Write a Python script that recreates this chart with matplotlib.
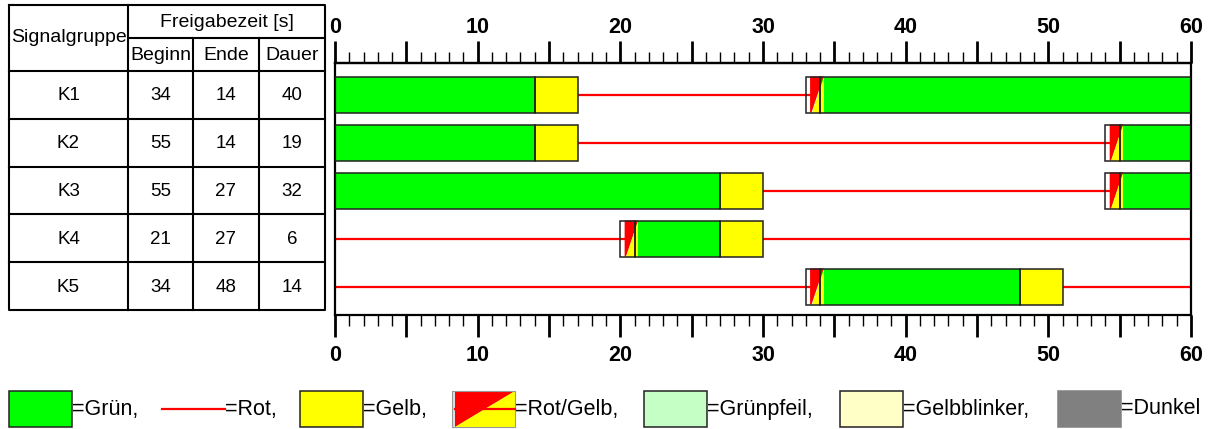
import matplotlib
matplotlib.use('Agg')
import matplotlib.pyplot as plt
from matplotlib.patches import Rectangle, Polygon
from matplotlib.ticker import MultipleLocator

plt.rcParams['font.family'] = ['Liberation Sans', 'DejaVu Sans']

# table data
groups = ['K1', 'K2', 'K3', 'K4', 'K5']
beginn = [34, 55, 55, 21, 34]
ende = [14, 14, 27, 27, 48]
dauer = [40, 19, 32, 6, 14]

# signal phases (state, start, end) in seconds
phases_k1 = [('gruen', 0, 14), ('gelb', 14, 17), ('rot', 17, 33), ('rotgelb', 33, 34), ('gruen', 34, 60)]
phases_k2 = [('gruen', 0, 14), ('gelb', 14, 17), ('rot', 17, 54), ('rotgelb', 54, 55), ('gruen', 55, 60)]
phases_k3 = [('gruen', 0, 27), ('gelb', 27, 30), ('rot', 30, 54), ('rotgelb', 54, 55), ('gruen', 55, 60)]
phases_k4 = [('rot', 0, 20), ('rotgelb', 20, 21), ('gruen', 21, 27), ('gelb', 27, 30), ('rot', 30, 60)]
phases_k5 = [('rot', 0, 33), ('rotgelb', 33, 34), ('gruen', 34, 48), ('gelb', 48, 51), ('rot', 51, 60)]
all_phases = [phases_k1, phases_k2, phases_k3, phases_k4, phases_k5]

cycle = 60

GREEN = '#00ff00'
YELLOW = '#ffff00'
RED = '#ff0000'
EDGE = '#222222'
fills = {'gruen': GREEN, 'gelb': YELLOW}

W, H = 1221, 429
fig = plt.figure(figsize=(W / 100, H / 100), dpi=100)

# background axes in pixel coords for table and legend
bg = fig.add_axes([0, 0, 1, 1])
bg.set_xlim(0, W)
bg.set_ylim(H, 0)
bg.axis('off')

# ---- table ----
tlw = 1.5
xl, xc1, xc2, xc3, xr = 9, 128, 193, 259, 325
yt, yh1, yh2 = 5, 38, 71
row_h = 47.8
yb = yh2 + row_h * len(groups)
bg.plot([xl, xr, xr, xl, xl], [yt, yt, yb, yb, yt], color='k', lw=tlw)
bg.plot([xc1, xc1], [yt, yb], color='k', lw=tlw)
bg.plot([xc2, xc2], [yh1, yb], color='k', lw=tlw)
bg.plot([xc3, xc3], [yh1, yb], color='k', lw=tlw)
bg.plot([xc1, xr], [yh1, yh1], color='k', lw=tlw)
for i in range(len(groups)):
    yy = yh2 + i * row_h
    bg.plot([xl, xr], [yy, yy], color='k', lw=tlw)

fs = 14
bg.text((xl + xc1) / 2, (yt + yh2) / 2, 'Signalgruppe', ha='center', va='center', fontsize=fs)
bg.text((xc1 + xr) / 2, (yt + yh1) / 2 + 1, 'Freigabezeit [s]', ha='center', va='center', fontsize=fs)
for x0, x1, lab in [(xc1, xc2, 'Beginn'), (xc2, xc3, 'Ende'), (xc3, xr, 'Dauer')]:
    bg.text((x0 + x1) / 2, (yh1 + yh2) / 2 + 1, lab, ha='center', va='center', fontsize=fs)
for i, g in enumerate(groups):
    yy = yh2 + (i + 0.5) * row_h + 1
    for x0, x1, val in [(xl, xc1, g), (xc1, xc2, beginn[i]), (xc2, xc3, ende[i]), (xc3, xr, dauer[i])]:
        bg.text((x0 + x1) / 2, yy, str(val), ha='center', va='center', fontsize=13.5)

# ---- timeline ----
ax = fig.add_axes([335 / W, (H - 315) / H, 856 / W, 252 / H])
ax.set_xlim(0, cycle)
ax.set_ylim(4 + 28.5 / 48, -31.5 / 48)
ax.set_yticks([])
for sp in ax.spines.values():
    sp.set_linewidth(1.6)
    sp.set_color('k')

bh = 0.75


def draw_rotgelb(ax, y, t0, t1):
    top, bot = y - bh / 2, y + bh / 2
    s, e = t0 + 0.3, t1 + 0.25
    ax.add_patch(Rectangle((t0, top), t1 - t0, bh, fc='white', ec='none', zorder=2))
    ax.plot([t0, s + 0.1], [y, y], color=RED, lw=1.6, zorder=2.5)
    ax.add_patch(Polygon([(s, top), (e, top), (s + 0.1, bot), (s, bot)], closed=True,
                         fc=RED, ec='none', zorder=3))
    ax.add_patch(Polygon([(e, top), (e, bot), (s + 0.1, bot)], closed=True,
                         fc=YELLOW, ec='none', zorder=3))
    ax.add_patch(Rectangle((t0, top), t1 - t0, bh, fill=False, ec=EDGE, lw=1.1, zorder=4))


for i, ph in enumerate(all_phases):
    for state, t0, t1 in ph:
        if state == 'rot':
            ax.plot([t0, t1], [i, i], color=RED, lw=1.6, zorder=1)
        elif state == 'rotgelb':
            draw_rotgelb(ax, i, t0, t1)
        else:
            ax.add_patch(Rectangle((t0, i - bh / 2), t1 - t0, bh, fc=fills[state], ec='none', zorder=2))
            ax.add_patch(Rectangle((t0, i - bh / 2), t1 - t0, bh, fill=False, ec=EDGE, lw=1.1, zorder=4))


def style_axis(axis, where, pad):
    axis.set_major_locator(MultipleLocator(5))
    axis.set_minor_locator(MultipleLocator(1))
    axis.set_major_formatter(lambda v, p: f'{v:.0f}' if round(v) % 10 == 0 else '')
    axis.axes.tick_params(axis='x', which='major', direction='out', length=16, width=1.1,
                          pad=pad, labelsize=15.5)
    axis.axes.tick_params(axis='x', which='minor', direction='out', length=8, width=1.0)
    for tick in axis.get_major_ticks():
        for lab in (tick.label1, tick.label2):
            lab.set_fontweight('bold')
        if round(tick.get_loc()) % 10 == 0:
            tick.tick1line.set_markeredgewidth(2.0)
            tick.tick2line.set_markeredgewidth(2.0)


ax.tick_params(axis='x', which='both', top=False, labeltop=False, bottom=True, labelbottom=True)
style_axis(ax.xaxis, 'bottom', 5.5)
top_ax = ax.secondary_xaxis('top')
top_ax.spines['top'].set_linewidth(1.6)
style_axis(top_ax.xaxis, 'top', 2.2)

# ---- legend ----
ly0, ly1 = 391, 427
lyc = (ly0 + ly1) / 2
lfs = 15.5
bw = 63


def leg_box(x0, fc, ec=EDGE):
    bg.add_patch(Rectangle((x0, ly0), bw, ly1 - ly0, fc=fc, ec=ec, lw=1.1))


leg_box(9, GREEN)
bg.text(72, lyc, '=Grün,', ha='left', va='center', fontsize=lfs)
bg.plot([162, 225], [lyc, lyc], color=RED, lw=1.6)
bg.text(225, lyc, '=Rot,', ha='left', va='center', fontsize=lfs)
leg_box(300, YELLOW)
bg.text(363, lyc, '=Gelb,', ha='left', va='center', fontsize=lfs)
# rot/gelb symbol
rx = 452
bg.add_patch(Rectangle((rx, ly0), bw, ly1 - ly0, fc='#dddddd', ec='none'))
bg.add_patch(Polygon([(rx + 3, ly0), (rx + bw, ly0), (rx + 3, ly1)], closed=True, fc=RED, ec='none'))
bg.add_patch(Polygon([(rx + bw, ly0), (rx + bw + 1, ly1), (rx + 3, ly1)], closed=True, fc=YELLOW, ec='none'))
bg.plot([rx + 3, rx + bw], [lyc, lyc], color=RED, lw=1.6)
bg.add_patch(Rectangle((rx, ly0), bw, ly1 - ly0, fill=False, ec='#999999', lw=0.8))
bg.text(rx + bw, lyc, '=Rot/Gelb,', ha='left', va='center', fontsize=lfs)
leg_box(644, '#c6ffc6')
bg.text(644 + bw, lyc, '=Grünpfeil,', ha='left', va='center', fontsize=lfs)
leg_box(840, '#ffffc6')
bg.text(840 + bw, lyc, '=Gelbblinker,', ha='left', va='center', fontsize=lfs)
leg_box(1058, '#808080', ec='#808080')
bg.text(1058 + bw, lyc, '=Dunkel', ha='left', va='center', fontsize=lfs)

fig.savefig('out.png', dpi=100)
